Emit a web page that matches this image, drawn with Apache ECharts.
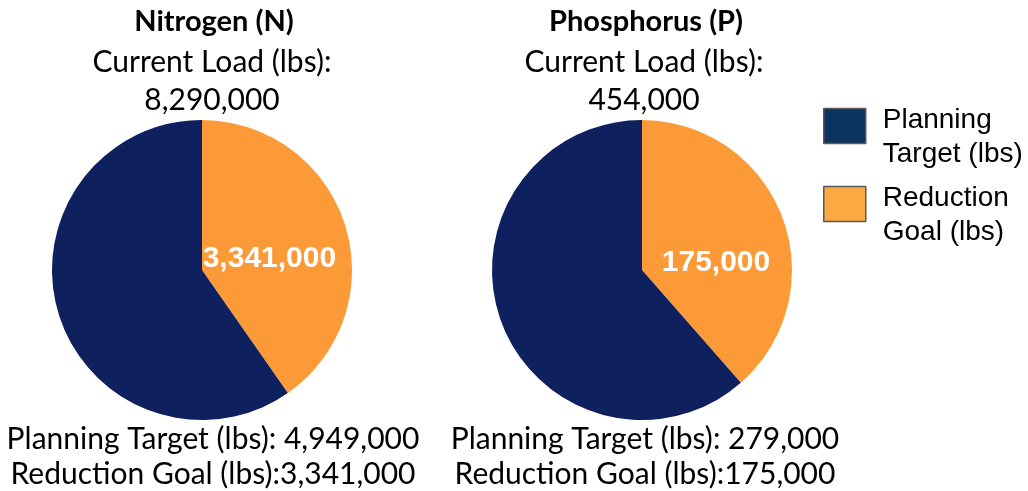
<!DOCTYPE html>
<html><head><meta charset="utf-8">
<script src="https://cdn.jsdelivr.net/npm/echarts@6/dist/echarts.min.js"></script>
<style>html,body{margin:0;padding:0;background:#fff}#c{width:1028px;height:491px}</style>
</head><body><div id="c"></div>
<script>
const nutrients = ['Nitrogen (N)', 'Phosphorus (P)'];
const currentLoad = [8290000, 454000];
const planningTarget = [4949000, 279000];
const reductionGoal = [3341000, 175000];
const seriesNames = ['Planning Target (lbs)', 'Reduction Goal (lbs)'];
const legendLines = [['Planning', 'Target (lbs)'], ['Reduction', 'Goal (lbs)']];

const fmt = v => v.toLocaleString('en-US');
const centersX = [202, 642];
const textX = [212, 644];
const labelOffsets = [[-7, 12], [1, 20]];
const FONT = 'Lato';
const chart = echarts.init(document.getElementById('c'));

const titles = [];
nutrients.forEach((n, i) => {
  titles.push({text: n, left: textX[i] + 2, top: 3, textAlign: 'center', padding: 0,
    textStyle: {fontFamily: FONT, fontWeight: 'bold', fontSize: 29, lineHeight: 38, color: '#000'}});
  titles.push({text: 'Current Load (lbs):\n' + fmt(currentLoad[i]), left: textX[i], top: 43, textAlign: 'center', padding: 0,
    textStyle: {fontFamily: FONT, fontWeight: 'normal', fontSize: 30, lineHeight: 38, color: '#000'}});
  titles.push({text: 'Planning Target (lbs): ' + fmt(planningTarget[i]) + '\nReduction Goal (lbs):' + fmt(reductionGoal[i]),
    left: textX[i] + 1, top: 422, textAlign: 'center', padding: 0,
    textStyle: {fontFamily: FONT, fontWeight: 'normal', fontSize: 30, lineHeight: 35, color: '#000'}});
});

const pieColors = ['#0E215E', '#FD9A38'];
const series = nutrients.map((n, i) => ({
  type: 'pie', name: n, center: [centersX[i], 270], radius: [0, 150],
  startAngle: 90, clockwise: true, silent: true,
  labelLine: {show: false},
  data: [
    {name: seriesNames[1], value: reductionGoal[i], itemStyle: {color: pieColors[1]},
     label: {show: true, position: 'inside', formatter: p => fmt(p.value), offset: labelOffsets[i],
       fontFamily: 'Liberation Sans, Arial', fontWeight: 'bold', fontSize: 30, color: '#fff'}},
    {name: seriesNames[0], value: planningTarget[i], itemStyle: {color: pieColors[0]}, label: {show: false}}
  ]
}));

chart.setOption({
  animation: false,
  title: titles,
  legend: {
    orient: 'vertical', left: 823, top: 87, padding: 0,
    itemWidth: 42, itemHeight: 35, itemGap: -3, selectedMode: false,
    formatter: name => {
      const l = legendLines[seriesNames.indexOf(name)];
      return '{s|}\n{a|' + l[0] + '}\n{a|' + l[1] + '}';
    },
    textStyle: {fontFamily: 'Liberation Sans, Arial', fontSize: 28, color: '#000', padding: [0, 0, 0, 12],
      rich: {
        s: {fontSize: 10, lineHeight: 22, fontFamily: 'Liberation Sans, Arial'},
        a: {fontSize: 28, lineHeight: 34, fontFamily: 'Liberation Sans, Arial', color: '#000'}
      }},
    data: [
      {name: seriesNames[0], icon: 'rect', itemStyle: {color: '#0B3560', borderColor: '#5A5A5A', borderWidth: 1.5}},
      {name: seriesNames[1], icon: 'rect', itemStyle: {color: '#FBA943', borderColor: '#5A5A5A', borderWidth: 1.5}}
    ]
  },
  series: series
});
</script></body></html>
